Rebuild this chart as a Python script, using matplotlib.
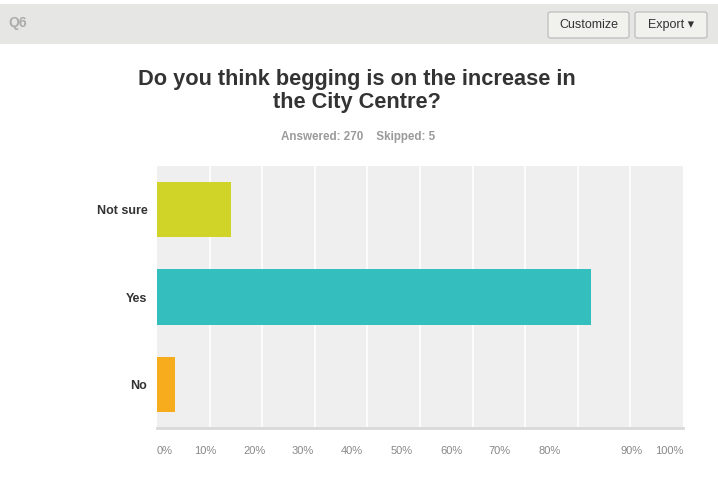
import matplotlib
matplotlib.use("Agg")
import matplotlib.pyplot as plt
from matplotlib.patches import Rectangle, FancyBboxPatch

# Survey answers (percent of respondents)
categories = ["No", "Yes", "Not sure"]
percent = [3.33, 82.59, 14.07]
bar_colors = ["#f7ac1e", "#34bebe", "#d0d428"]

grid_ticks = list(range(0, 101, 10))
tick_labels = ["0%", "10%", "20%", "30%", "40%", "50%", "60%", "70%", "80%", "90%", "100%"]
# label anchor positions along the value axis
label_pos = [0, 9.2, 18.5, 27.7, 37.1, 46.5, 55.9, 65.2, 74.6, 90.2, 100]

title = "Do you think begging is on the increase in\nthe City Centre?"
subtitle = "Answered: 270    Skipped: 5"

plt.rcParams["font.family"] = ["Liberation Sans", "DejaVu Sans"]

W, H = 718, 498
fig = plt.figure(figsize=(W / 100, H / 100), dpi=100)
fig.patch.set_facecolor("white")

# header strip
fig.patches.append(Rectangle((0, 1 - 44 / H), 1, 40 / H, transform=fig.transFigure,
                             facecolor="#e6e6e4", edgecolor="none", zorder=0))
fig.text(8 / W, 1 - 23 / H, "Q6", fontsize=10, color="#acacac", fontweight="bold",
         va="center", ha="left")

def button(x0, x1, label):
    y0, y1 = 12, 38
    fig.patches.append(FancyBboxPatch((x0 / W, 1 - y1 / H), (x1 - x0) / W, (y1 - y0) / H,
                                      boxstyle="round,pad=0,rounding_size=0.004",
                                      transform=fig.transFigure, facecolor="#f1f1ee",
                                      edgecolor="#bdbdbd", linewidth=0.9, zorder=1))
    fig.text((x0 + x1) / 2 / W, 1 - 25 / H, label, fontsize=9, color="#333333",
             ha="center", va="center", zorder=2)

button(548, 629, "Customize")
button(635, 707, "Export \u25BE")

fig.text(357 / W, 1 - 91 / H, title, fontsize=15.7, fontweight="bold", color="#333333",
         ha="center", va="center", linespacing=1.15)
fig.text(358 / W, 1 - 137 / H, subtitle, fontsize=8.4, fontweight="bold", color="#9a9a9a",
         ha="center", va="center")

ax = fig.add_axes([157 / W, 1 - 428 / H, (683 - 157) / W, (428 - 166) / H])
ax.set_facecolor("#efefef")
ypos = list(range(len(categories)))
ax.barh(ypos, percent, height=0.63, color=bar_colors, zorder=3)
ax.set_xlim(0, 100)
ax.set_ylim(-0.5, len(categories) - 0.5)

ax.set_yticks(ypos)
ax.set_yticklabels(categories, fontsize=9, fontweight="bold", color="#333333")

# labels on major ticks, white gridlines on minor ticks
ax.set_xticks(label_pos)
ax.set_xticklabels(tick_labels, fontsize=8, color="#888888")
labels = ax.xaxis.get_majorticklabels()
labels[0].set_horizontalalignment("left")
labels[-1].set_horizontalalignment("right")
ax.set_xticks(grid_ticks, minor=True)
ax.xaxis.grid(True, which="minor", color="white", linewidth=1.2)
ax.xaxis.grid(False, which="major")
ax.set_axisbelow(True)
ax.tick_params(axis="both", which="both", length=0)
ax.tick_params(axis="x", which="major", pad=13)
ax.tick_params(axis="y", pad=7)

for s in ["top", "right", "left"]:
    ax.spines[s].set_visible(False)
ax.spines["bottom"].set_color("#d9d9d9")
ax.spines["bottom"].set_linewidth(2)

fig.savefig("out.png", dpi=100)
